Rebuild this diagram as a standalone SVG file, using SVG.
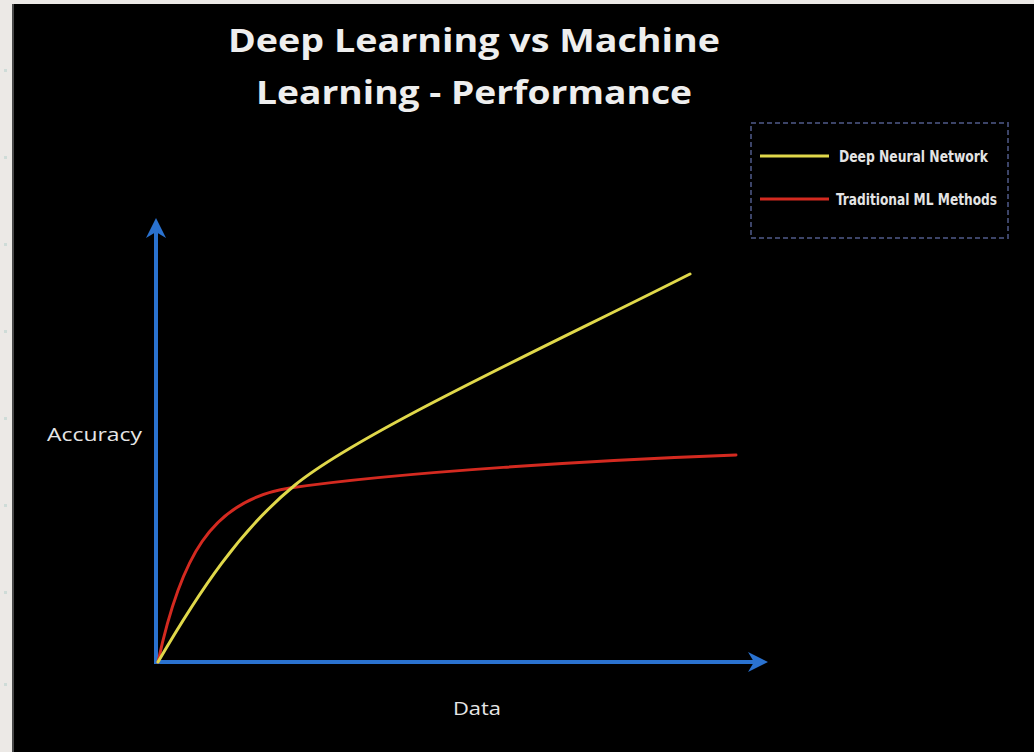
<svg xmlns="http://www.w3.org/2000/svg" width="1034" height="752" viewBox="0 0 1034 752">
  <defs>
    <marker id="arrow" viewBox="0 0 10 10" refX="8" refY="5" markerWidth="5" markerHeight="5" markerUnits="strokeWidth" orient="auto">
      <path d="M0,0 L10,5 L0,10 L3,5 Z" fill="#2a72d0"/>
    </marker>
    <style>
      .title { font-family: "Open Sans", "Noto Sans", sans-serif; font-weight: bold; font-size: 33px; fill: #eeeeee; }
      .axislabel { font-family: "Open Sans", "Noto Sans", sans-serif; font-size: 19px; fill: #e6e6e6; }
      .legend { font-family: "DejaVu Sans Condensed", "DejaVu Sans", sans-serif; font-weight: bold; font-size: 16px; fill: #e4e4e4; }
      .axis { stroke: #2a72d0; stroke-width: 4; fill: none; }
      .curve { fill: none; stroke-width: 3; stroke-linecap: round; }
      .dot { fill: #cfdcd8; }
    </style>
  </defs>
  <rect x="0" y="0" width="1034" height="752" fill="#ece9e6"/>
  <rect x="12" y="4" width="1022" height="748" fill="#4a4a4a"/>
  <rect x="14" y="4" width="1020" height="748" fill="#000000"/>
  <g id="margin-dots">
    <rect class="dot" x="4" y="69" width="3" height="3"/>
    <rect class="dot" x="4" y="156" width="3" height="3"/>
    <rect class="dot" x="4" y="243" width="3" height="3"/>
    <rect class="dot" x="4" y="330" width="3" height="3"/>
    <rect class="dot" x="4" y="417" width="3" height="3"/>
    <rect class="dot" x="4" y="504" width="3" height="3"/>
    <rect class="dot" x="4" y="591" width="3" height="3"/>
    <rect class="dot" x="4" y="683" width="3" height="3"/>
  </g>
  <g id="title">
    <text class="title" x="474" y="52" text-anchor="middle" textLength="492" lengthAdjust="spacingAndGlyphs">Deep Learning vs Machine</text>
    <text class="title" x="474" y="104" text-anchor="middle" textLength="436" lengthAdjust="spacingAndGlyphs">Learning - Performance</text>
  </g>
  <g id="legend">
    <rect x="751" y="123" width="257" height="115" fill="none" stroke="#3c4468" stroke-width="2" stroke-dasharray="5,3"/>
    <line x1="760" y1="156" x2="829" y2="156" stroke="#e0d84a" stroke-width="3"/>
    <text class="legend" x="839" y="162" textLength="149" lengthAdjust="spacingAndGlyphs">Deep Neural Network</text>
    <line x1="760" y1="199" x2="829" y2="199" stroke="#d42a20" stroke-width="3"/>
    <text class="legend" x="836" y="205" textLength="161" lengthAdjust="spacingAndGlyphs">Traditional ML Methods</text>
  </g>
  <g id="connectors">
    <line class="axis" x1="156" y1="664" x2="156" y2="222" marker-end="url(#arrow)"/>
    <line class="axis" x1="154" y1="662" x2="764" y2="662" marker-end="url(#arrow)"/>
  </g>
  <g id="curves">
    <path id="traditional-ml" class="curve" stroke="#d42a20" d="M158,662 C180,560 210,500 290,488 C400,472 600,460 736,455"/>
    <path id="deep-neural-network" class="curve" stroke="#e0d84a" d="M158,662 C200,590 240,530 295,485 C360,432 560,340 690,274"/>
  </g>
  <g id="labels">
    <text class="axislabel" x="47" y="441" textLength="95" lengthAdjust="spacingAndGlyphs">Accuracy</text>
    <text class="axislabel" x="453" y="715" textLength="48" lengthAdjust="spacingAndGlyphs">Data</text>
  </g>
</svg>
